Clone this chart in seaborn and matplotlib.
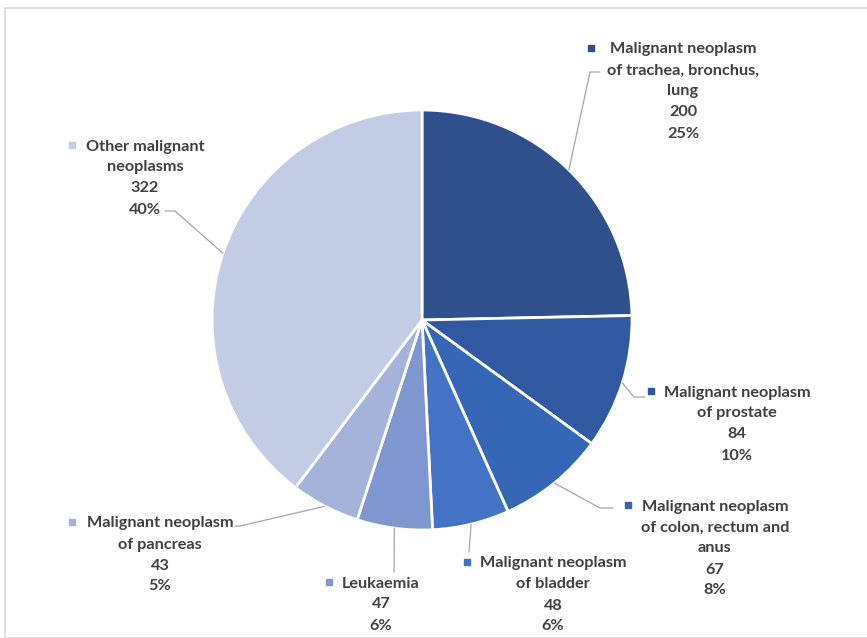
import numpy as np
import matplotlib.pyplot as plt
import seaborn as sns

# data
categories = ['Malignant neoplasm\nof trachea, bronchus,\nlung',
              'Malignant neoplasm\nof prostate',
              'Malignant neoplasm\nof colon, rectum and\nanus',
              'Malignant neoplasm\nof bladder',
              'Leukaemia',
              'Malignant neoplasm\nof pancreas',
              'Other malignant\nneoplasms']
deaths = [200, 84, 67, 48, 47, 43, 322]
colors = ['#2F4F8D', '#3059A2', '#3666B6', '#4472C4', '#7F96D0', '#A5B3DB', '#C2CCE5']

W, H = 867, 638
CX, CY, R = 422, 320, 210
LINE = 21

# label layout in pixel coords: text centre x, first-line y, bullet x, leader path
layout = [
    (683, 48, 591, [(590, 72), (600, 72)]),
    (737, 391, 651, [(634, 397), (645, 397)]),
    (715, 505, 628, [(600, 508), (613, 508)]),
    (553, 562, 467, [(469, 552)]),
    (381, 582, 329, [(394, 572)]),
    (160, 522, 72, [(240, 526), (235, 526)]),
    (145, 145, 72, [(175, 211), (165, 211)]),
]

sns.set_theme(style='white')
plt.rcParams['font.family'] = ['Lato', 'DejaVu Sans']

fig = plt.figure(figsize=(W / 100, H / 100), dpi=100)
ax = fig.add_axes([0, 0, 1, 1])

wedges, _ = ax.pie(deaths, colors=colors, startangle=90, counterclock=False,
                   center=(CX, H - CY), radius=R,
                   wedgeprops=dict(edgecolor='white', linewidth=2))

total = sum(deaths)
for w, cat, val, col, (tx, ty, bx, path) in zip(wedges, categories, deaths, colors, layout):
    mid = np.deg2rad((w.theta1 + w.theta2) / 2)
    sx = CX + R * np.cos(mid)
    sy = H - CY + R * np.sin(mid)
    xs = [sx] + [p[0] for p in path]
    ys = [sy] + [H - p[1] for p in path]
    ax.plot(xs, ys, color='#A6A6A6', lw=0.9, zorder=1)

    pct = round(val / total * 100)
    lines = cat.split('\n') + [str(val), f'{pct}%']
    for i, line in enumerate(lines):
        ax.text(tx, H - ty - i * LINE, line, ha='center', va='center_baseline',
                fontsize=11.7, fontweight='bold', color='#404040')
    ax.scatter([bx], [H - ty], marker='s', s=24, color=col, zorder=3)

ax.add_patch(plt.Rectangle((5, 0), W, H - 8, fill=False, edgecolor='#D9D9D9', lw=1.2))
ax.set_xlim(0, W)
ax.set_ylim(0, H)
ax.axis('off')

fig.savefig('out.png', dpi=100)
